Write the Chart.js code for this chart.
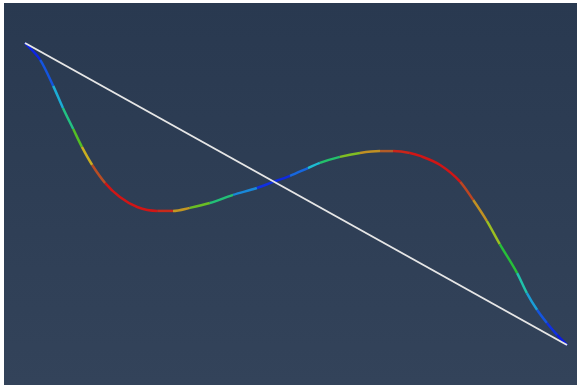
<!DOCTYPE html>
<html>
<head>
<meta charset="utf-8">
<script src="https://cdn.jsdelivr.net/npm/chart.js@4/dist/chart.umd.min.js"></script>
<style>
  html, body { margin: 0; padding: 0; background: #ffffff; }
  #wrap { position: absolute; left: 0; top: 0; width: 577px; height: 387px; }
  #bg {
    position: absolute; left: 4px; top: 3px; width: 573px; height: 382px;
    background: linear-gradient(to bottom, #293950, #33435a);
  }
</style>
</head>
<body>
<div id="bg"></div>
<div id="wrap"><canvas id="curveChart"></canvas></div>
<script>
// Curve samples (normalized: x 0..1 left to right, y 0..1 bottom to top)
const curveX = [0, 0.028, 0.052, 0.070, 0.089, 0.105, 0.124, 0.148, 0.175, 0.207, 0.244, 0.273,
  0.304, 0.341, 0.384, 0.428, 0.458, 0.489, 0.522, 0.544, 0.581, 0.618, 0.655, 0.679, 0.710,
  0.729, 0.766, 0.803, 0.827, 0.852, 0.876, 0.908, 0.926, 0.945, 0.963, 0.982, 1];
const curveY = [1, 0.944, 0.858, 0.785, 0.715, 0.656, 0.596, 0.536, 0.490, 0.457, 0.444, 0.444,
  0.454, 0.470, 0.497, 0.520, 0.540, 0.560, 0.586, 0.603, 0.623, 0.636, 0.642, 0.642, 0.636,
  0.626, 0.596, 0.540, 0.480, 0.411, 0.334, 0.238, 0.172, 0.116, 0.073, 0.033, 0];
// scalar used for the colour map along the curve
const curveScalar = [0.05, 0.12, 0.28, 0.36, 0.48, 0.6, 0.75, 0.9, 0.97, 1.0, 0.97, 0.8,
  0.62, 0.5, 0.36, 0.18, 0.05, 0.15, 0.3, 0.38, 0.5, 0.66, 0.78, 0.82, 0.97,
  1.0, 1.0, 0.9, 0.78, 0.66, 0.55, 0.42, 0.35, 0.25, 0.15, 0.08, 0.03];

// straight reference line between the end points
const lineX = [0, 1];
const lineY = [1, 0];

// jet-like colour stops
const cmapPos = [0, 0.18, 0.35, 0.5, 0.65, 0.8, 0.92, 1];
const cmapCol = [[8, 8, 225], [20, 70, 225], [30, 195, 210], [40, 190, 40], [205, 190, 30],
  [178, 92, 40], [208, 22, 22], [208, 22, 22]];

function colorAt(v) {
  for (let i = 1; i < cmapPos.length; i++) {
    if (v <= cmapPos[i]) {
      const f = (v - cmapPos[i - 1]) / (cmapPos[i] - cmapPos[i - 1]);
      const a = cmapCol[i - 1], b = cmapCol[i];
      const c = a.map((ch, k) => Math.round(ch + (b[k] - ch) * f));
      return `rgb(${c[0]},${c[1]},${c[2]})`;
    }
  }
  const c = cmapCol[cmapCol.length - 1];
  return `rgb(${c[0]},${c[1]},${c[2]})`;
}

new Chart(document.getElementById('curveChart'), {
  type: 'scatter',
  data: {
    datasets: [
      {
        data: lineX.map((x, i) => ({ x, y: lineY[i] })),
        showLine: true,
        borderColor: '#e6e6e6',
        borderWidth: 2,
        pointRadius: 0,
        clip: false
      },
      {
        data: curveX.map((x, i) => ({ x, y: curveY[i] })),
        showLine: true,
        borderWidth: 2.5,
        pointRadius: 0,
        cubicInterpolationMode: 'monotone',
        clip: false,
        segment: {
          borderColor: ctx => colorAt((curveScalar[ctx.p0DataIndex] + curveScalar[ctx.p1DataIndex]) / 2)
        }
      }
    ]
  },
  options: {
    responsive: true,
    maintainAspectRatio: false,
    animation: false,
    layout: { padding: { left: 25, right: 10, top: 43, bottom: 42 } },
    plugins: { legend: { display: false }, tooltip: { enabled: false } },
    scales: {
      x: { type: 'linear', min: 0, max: 1, display: false },
      y: { type: 'linear', min: 0, max: 1, display: false }
    }
  }
});
</script>
</body>
</html>
